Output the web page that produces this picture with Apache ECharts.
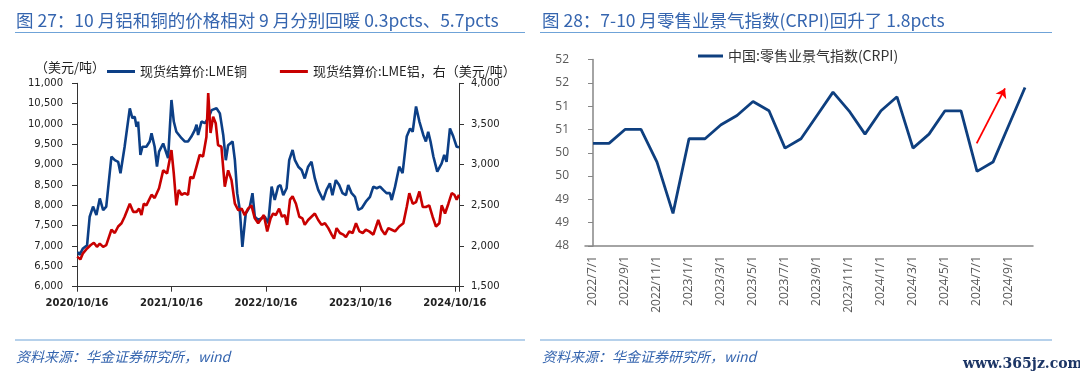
<!DOCTYPE html>
<html><head><meta charset="utf-8">
<script src="https://cdn.jsdelivr.net/npm/echarts@6/dist/echarts.min.js"></script>
<style>html,body{margin:0;padding:0;background:#fff}#c{width:1080px;height:376px}</style>
</head><body><div id="c"></div>
<script>
// ---- Left chart data (x = days since 2020/10/16) ----
const xTickLabels = ['2020/10/16','2021/10/16','2022/10/16','2023/10/16','2024/10/16'];
const copperDays = [4,10,23,39,49,62,75,88,101,113,133,146,159,168,184,204,214,223,230,236,245,253,268,281,288,300,309,317,333,352,365,374,384,391,404,416,429,442,455,462,468,481,494,507,520,539,552,565,575,584,601,610,619,629,639,652,668,678,687,700,
  726,739,752,764,777,786,797,810,820,833,842,855,868,880,893,906,919,932,951,964,977,987,1000,1013,1026,1039,1048,1061,1074,1087,1100,1116,1132,1145,1158,1171,1183,1196,1209,1216,1229,1245,1258,1274,1287,1297,1310,1323,1338,1348,1357,1366,1377,1392,1409,1419,1428,1441,1454,1467,1476];
const copperValues = [6860,6780,6940,7020,7720,7970,7760,8170,7880,7970,9200,9110,9070,8790,9440,10385,10140,10180,9930,10060,9240,9440,9440,9570,9770,9440,8950,9320,9520,9160,10590,10060,9810,9850,9650,9570,9570,9690,9850,9980,9730,10060,10020,10140,10340,10385,10260,9730,9110,9480,9570,9110,8300,7890,6980,7800,7970,8300,7720,7640,
  7720,7560,8460,8130,8460,8500,8250,8420,9110,9360,9110,8950,8870,8660,8950,9070,8660,8380,8130,8380,8540,8250,8620,8500,8300,8250,8500,8300,8210,7890,7930,8090,8210,8460,8420,8460,8380,8300,8300,8130,8460,8950,8790,9690,9890,9810,10430,10060,9730,9570,9810,9570,9200,8830,9030,9240,9070,9890,9690,9440,9430];
const aluDays = [1,13,23,39,52,65,77,88,101,113,133,146,159,172,184,204,217,230,240,249,258,268,288,300,317,333,348,365,374,384,393,404,416,429,438,449,462,474,487,500,507,516,526,536,545,558,571,584,597,610,623,636,648,661,674,687,700,
  722,735,748,758,768,781,792,803,812,823,833,846,859,871,880,893,906,919,932,945,958,971,984,993,1003,1016,1029,1039,1052,1065,1078,1091,1104,1116,1129,1145,1164,1177,1190,1203,1216,1229,1245,1261,1274,1284,1297,1310,1323,1336,1348,1361,1374,1387,1400,1409,1422,1435,1448,1458,1467,1476];
const aluValues = [1870,1836,1910,1970,2010,2040,1990,2030,1990,2010,2200,2160,2240,2280,2360,2520,2420,2420,2460,2380,2520,2500,2630,2590,2710,2930,2890,3180,2890,2500,2690,2630,2650,2630,2850,2830,2980,3120,3100,3340,3880,3390,3590,3510,3240,3220,2730,2930,2810,2520,2440,2460,2380,2460,2500,2340,2280,
  2380,2180,2340,2400,2380,2460,2360,2380,2260,2570,2610,2520,2360,2340,2260,2320,2360,2400,2320,2260,2280,2220,2140,2090,2220,2160,2140,2110,2180,2160,2280,2180,2160,2200,2180,2140,2320,2200,2140,2220,2200,2180,2240,2280,2480,2650,2520,2540,2670,2480,2480,2500,2360,2240,2280,2500,2400,2520,2650,2630,2570,2630];

// ---- Right chart data ----
const crpiMonths = ['2022/7/1','2022/8/1','2022/9/1','2022/10/1','2022/11/1','2022/12/1','2023/1/1','2023/2/1','2023/3/1','2023/4/1','2023/5/1','2023/6/1','2023/7/1','2023/8/1','2023/9/1','2023/10/1','2023/11/1','2023/12/1','2024/1/1','2024/2/1','2024/3/1','2024/4/1','2024/5/1','2024/6/1','2024/7/1','2024/8/1','2024/9/1','2024/10/1'];
const crpiValues = [50.2,50.2,50.5,50.5,49.8,48.7,50.3,50.3,50.6,50.8,51.1,50.9,50.1,50.3,50.8,51.3,50.9,50.4,50.9,51.2,50.1,50.4,50.9,50.9,49.6,49.8,50.6,51.4];
const crpiTickLabels = ['48','49','49','50','50','51','51','52','52'];
const arrowStart = [23.98, 50.2];
const arrowEnd = [25.75, 51.38];

const copperData = copperDays.map((d,i)=>[d, copperValues[i]]);
const aluData = aluDays.map((d,i)=>[d, aluValues[i]]);

const chart = echarts.init(document.getElementById('c'), null, {renderer:'canvas'});
const blue = '#0C3F86', red = '#C80000', titleBlue = '#3565AF';
const cjk = '"Noto Sans CJK SC", sans-serif';
const leftAxisLabel = {fontFamily:'DejaVu Sans', fontSize:10, color:'#222'};

chart.setOption({
  animation:false,
  backgroundColor:'#fff',
  grid:[
    {left:77, right:1080-459, top:83.3, bottom:376-286.7},
    {left:585, right:1080-1033, top:59.5, bottom:376-246}
  ],
  xAxis:[
    {type:'value', gridIndex:0, min:0, max:1476, interval:365,
     axisLine:{lineStyle:{color:'#333', width:1}}, axisTick:{length:5, lineStyle:{color:'#333'}},
     splitLine:{show:false},
     axisLabel:{margin:12, fontFamily:'DejaVu Sans', fontSize:10, fontWeight:'bold', color:'#222',
       formatter:v=> (v % 365 === 0 && xTickLabels[v/365]) ? xTickLabels[v/365] : ''}},
    {type:'category', gridIndex:1, data:crpiMonths, boundaryGap:true,
     axisLine:{lineStyle:{color:'#868686', width:1.5}},
     axisTick:{interval:1, length:5, lineStyle:{color:'#868686'}},
     axisLabel:{interval:1, rotate:90, margin:10, fontFamily:'Open Sans', fontSize:12, color:'#595959'}},
    {type:'value', gridIndex:1, min:-0.5, max:27.5, show:false}
  ],
  yAxis:[
    {type:'value', gridIndex:0, min:6000, max:11000, interval:500,
     axisLine:{show:true, lineStyle:{color:'#333'}}, axisTick:{show:true, length:5, lineStyle:{color:'#333'}},
     splitLine:{show:false},
     axisLabel:Object.assign({margin:14, formatter:v=>v.toLocaleString('en-US')}, leftAxisLabel)},
    {type:'value', gridIndex:0, position:'right', min:1500, max:4000, interval:500,
     axisLine:{show:true, lineStyle:{color:'#333'}}, axisTick:{show:true, length:5, lineStyle:{color:'#333'}},
     splitLine:{show:false},
     axisLabel:Object.assign({margin:12, formatter:v=>v.toLocaleString('en-US')}, leftAxisLabel)},
    {type:'value', gridIndex:1, min:48, max:52, interval:0.5,
     axisLine:{show:true, lineStyle:{color:'#868686', width:1.5}}, axisTick:{show:true, length:5, lineStyle:{color:'#868686'}},
     splitLine:{show:false},
     axisLabel:{margin:16, fontFamily:'Open Sans', fontSize:12, color:'#595959',
       formatter:v=>crpiTickLabels[Math.round((v-48)/0.5)]}}
  ],
  legend:[
    {left:102, top:60, itemWidth:28, itemHeight:3, itemGap:33, icon:'rect',
     textStyle:{fontFamily:cjk, fontSize:13, color:'#222'},
     data:['现货结算价:LME铜','现货结算价:LME铝，右（美元/吨）']},
    {left:693, top:44, itemWidth:25, itemHeight:3, icon:'rect',
     textStyle:{fontFamily:cjk, fontSize:14, color:'#333'},
     data:['中国:零售业景气指数(CRPI)']}
  ],
  series:[
    {name:'现货结算价:LME铜', type:'line', xAxisIndex:0, yAxisIndex:0, data:copperData,
     showSymbol:false, symbol:'none', lineStyle:{color:blue, width:2.6}, itemStyle:{color:blue}},
    {name:'现货结算价:LME铝，右（美元/吨）', type:'line', xAxisIndex:0, yAxisIndex:1, data:aluData,
     showSymbol:false, symbol:'none', lineStyle:{color:red, width:2.6}, itemStyle:{color:red}},
    {name:'中国:零售业景气指数(CRPI)', type:'line', xAxisIndex:1, yAxisIndex:2, data:crpiValues,
     showSymbol:false, symbol:'none', lineStyle:{color:'#0E3F7F', width:2.8}, itemStyle:{color:'#0E3F7F'}},
    {name:'arrow', type:'line', xAxisIndex:2, yAxisIndex:2, data:[arrowStart],
     showSymbol:false, symbol:'none', lineStyle:{opacity:0}, itemStyle:{opacity:0}, silent:true,
     markLine:{silent:true, symbol:['none','arrow'], symbolSize:9, label:{show:false},
       lineStyle:{color:'#FF0000', width:1.8, type:'solid', opacity:1},
       itemStyle:{color:'#FF0000', opacity:1},
       emphasis:{disabled:true},
       data:[[{coord:arrowStart},{coord:arrowEnd}]]}}
  ],
  graphic:[
    {type:'text', x:16, y:20, style:{text:'图 27：10 月铝和铜的价格相对 9 月分别回暖 0.3pcts、5.7pcts', font:'17.5px '+cjk, fill:titleBlue, verticalAlign:'middle'}},
    {type:'line', shape:{x1:15, y1:32.5, x2:525, y2:32.5}, style:{stroke:'#6FA3D8', lineWidth:1.2}},
    {type:'text', x:542, y:20, style:{text:'图 28：7-10 月零售业景气指数(CRPI)回升了 1.8pcts', font:'17.5px '+cjk, fill:titleBlue, verticalAlign:'middle'}},
    {type:'line', shape:{x1:540, y1:32.5, x2:1052, y2:32.5}, style:{stroke:'#6FA3D8', lineWidth:1.2}},
    {type:'text', x:35, y:67.5, style:{text:'（美元/吨）', font:'13px '+cjk, fill:'#222', verticalAlign:'middle'}},
    {type:'line', shape:{x1:15, y1:340, x2:525, y2:340}, style:{stroke:'#6FA3D8', lineWidth:1.2}},
    {type:'line', shape:{x1:540, y1:340, x2:1052, y2:340}, style:{stroke:'#6FA3D8', lineWidth:1.2}},
    {type:'text', x:16, y:357, style:{text:'资料来源：华金证券研究所，wind', font:'italic 14px '+cjk, fill:titleBlue, verticalAlign:'middle'}},
    {type:'text', x:542, y:357, style:{text:'资料来源：华金证券研究所，wind', font:'italic 14px '+cjk, fill:titleBlue, verticalAlign:'middle'}},
    {type:'text', x:963, y:364, style:{text:'www.365jz.com', font:'bold 14px "DejaVu Serif", serif', fill:'#1C3565', verticalAlign:'middle'}}
  ]
});
</script></body></html>
